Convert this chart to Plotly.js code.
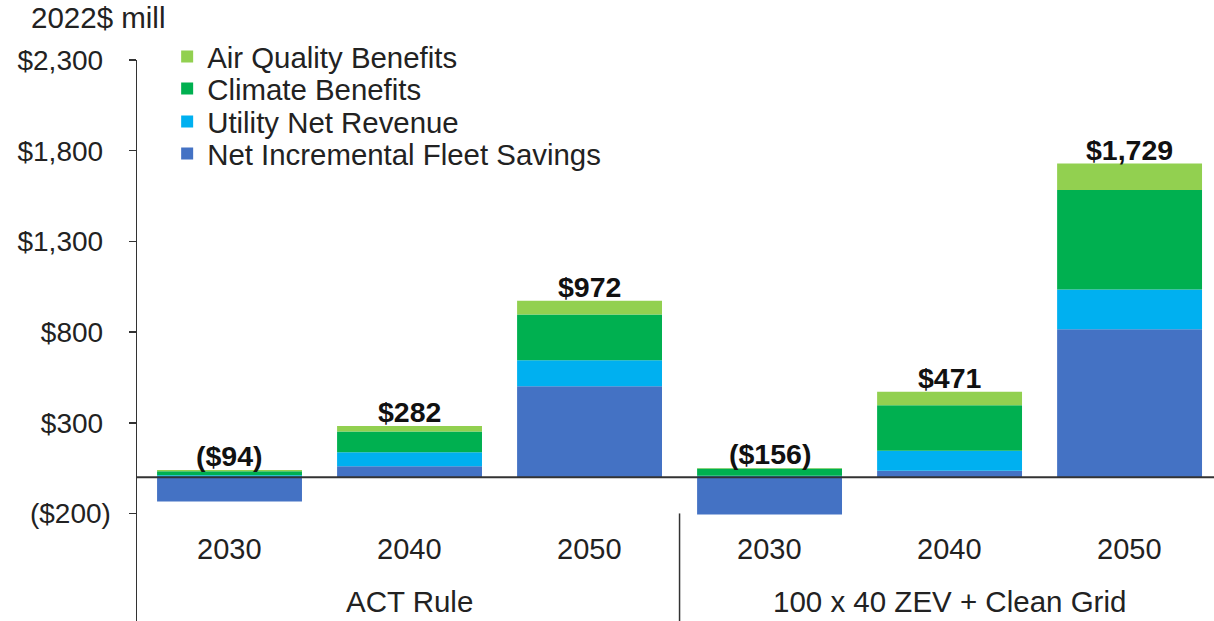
<!DOCTYPE html>
<html>
<head>
<meta charset="utf-8">
<script src="https://cdn.plot.ly/plotly-3.0.1.min.js"></script>
<style>
  html, body { margin: 0; padding: 0; background: #ffffff; }
  #chart { width: 1214px; height: 621px; }
</style>
</head>
<body>
<div id="chart"></div>
<script>
// ---- Data ----
const years = ["2030", "2040", "2050", "2030", "2040", "2050"];
const groups = ["ACT Rule", "100 x 40 ZEV + Clean Grid"];
const groupOfBar = [0, 0, 0, 1, 1, 1];
const fleetSavings = [-134, 60, 501, -206, 36, 815];
const utilityNetRevenue = [10, 78, 143, 8, 110, 219];
const climateBenefits = [22, 114, 253, 40, 250, 549];
const airQualityBenefits = [8, 30, 75, 2, 75, 146];
const totals = [-94, 282, 972, -156, 471, 1729];
const yTickVals = [-200, 300, 800, 1300, 1800, 2300];
const yTickText = ["($200)", "$300\u00a0", "$800\u00a0", "$1,300\u00a0", "$1,800\u00a0", "$2,300\u00a0"];

// ---- Styling ----
const FONT = '"Liberation Sans", Arial, sans-serif';
const TXT = '#222222';
const colors = {
  fleet: '#4472C4',
  utility: '#00B0F0',
  climate: '#00B050',
  air: '#92D050'
};

const xs = years.map((_, i) => i);

function bar(name, y, color, legendId) {
  return {
    type: 'bar', name: name, x: xs, y: y,
    marker: { color: color, line: { width: 0 } },
    legend: legendId,
    hoverinfo: 'name+y'
  };
}

const traces = [
  bar('Net Incremental Fleet Savings', fleetSavings, colors.fleet, 'legend4'),
  bar('Utility Net Revenue', utilityNetRevenue, colors.utility, 'legend3'),
  bar('Climate Benefits', climateBenefits, colors.climate, 'legend2'),
  bar('Air Quality Benefits', airQualityBenefits, colors.air, 'legend')
];

function fmt(v) {
  const s = '$' + Math.abs(v).toLocaleString('en-US');
  return v < 0 ? '(' + s + ')' : s;
}

const annotations = [];
// totals above the positive stack
xs.forEach(i => {
  const top = [utilityNetRevenue[i], climateBenefits[i], airQualityBenefits[i], fleetSavings[i]]
    .filter(v => v > 0).reduce((a, b) => a + b, 0);
  annotations.push({
    x: i, y: top, xref: 'x', yref: 'y', text: '<b>' + fmt(totals[i]) + '</b>',
    showarrow: false, yanchor: 'bottom', yshift: -4,
    font: { family: FONT, size: 28.5, color: '#111111' }
  });
});
// year labels
xs.forEach(i => {
  annotations.push({
    x: i, y: -396, xref: 'x', yref: 'y', text: years[i], showarrow: false,
    font: { family: FONT, size: 29, color: TXT }
  });
});
// group labels
groups.forEach((g, gi) => {
  const idx = xs.filter(i => groupOfBar[i] === gi);
  const cx = (idx[0] + idx[idx.length - 1]) / 2;
  annotations.push({
    x: cx, y: -683, xref: 'x', yref: 'y', text: g, showarrow: false,
    font: { family: FONT, size: 29.5, color: TXT }
  });
});

const yMin = -793, yMax = 2300;

const legendCommon = {
  xref: 'paper', yref: 'paper', x: 0.028, xanchor: 'left', yanchor: 'middle',
  bgcolor: 'rgba(0,0,0,0)', borderwidth: 0,
  font: { family: FONT, size: 29.4, color: TXT }
};
const rowY = px => 1 - (px - 60) / 561;

const layout = {
  width: 1214, height: 621,
  margin: { l: 137, r: 0, t: 60, b: 0, pad: 0 },
  paper_bgcolor: '#ffffff', plot_bgcolor: '#ffffff',
  barmode: 'relative', bargap: 0.195,
  font: { family: FONT, size: 28, color: TXT },
  title: {
    text: '2022$ mill', x: 31 / 1214, xanchor: 'left', xref: 'container',
    y: 1 - 18 / 621, yanchor: 'middle', yref: 'container',
    font: { family: FONT, size: 29.5, color: TXT }
  },
  xaxis: {
    range: [-0.514, 5.469], visible: false, fixedrange: true
  },
  yaxis: {
    range: [yMin, yMax], tickvals: yTickVals, ticktext: yTickText,
    showgrid: false, zeroline: false,
    showline: true, linecolor: '#333333', linewidth: 1.5,
    ticks: 'outside', ticklen: 7, tickcolor: '#333333', tickwidth: 1.5,
    ticklabelstandoff: 12,
    tickfont: { family: FONT, size: 28, color: TXT },
    fixedrange: true
  },
  showlegend: true,
  legend: Object.assign({}, legendCommon, { y: rowY(57) }),
  legend2: Object.assign({}, legendCommon, { y: rowY(89) }),
  legend3: Object.assign({}, legendCommon, { y: rowY(122) }),
  legend4: Object.assign({}, legendCommon, { y: rowY(154) }),
  shapes: [
    { type: 'line', xref: 'paper', yref: 'y', x0: 0, x1: 1, y0: 0, y1: 0,
      line: { color: '#333333', width: 2 }, layer: 'above' },
    { type: 'line', xref: 'x', yref: 'y', x0: 2.5, x1: 2.5, y0: -200, y1: yMin,
      line: { color: '#333333', width: 1.5 }, layer: 'above' }
  ],
  annotations: annotations
};

Plotly.newPlot('chart', traces, layout, { displayModeBar: false, staticPlot: true });
</script>
</body>
</html>
